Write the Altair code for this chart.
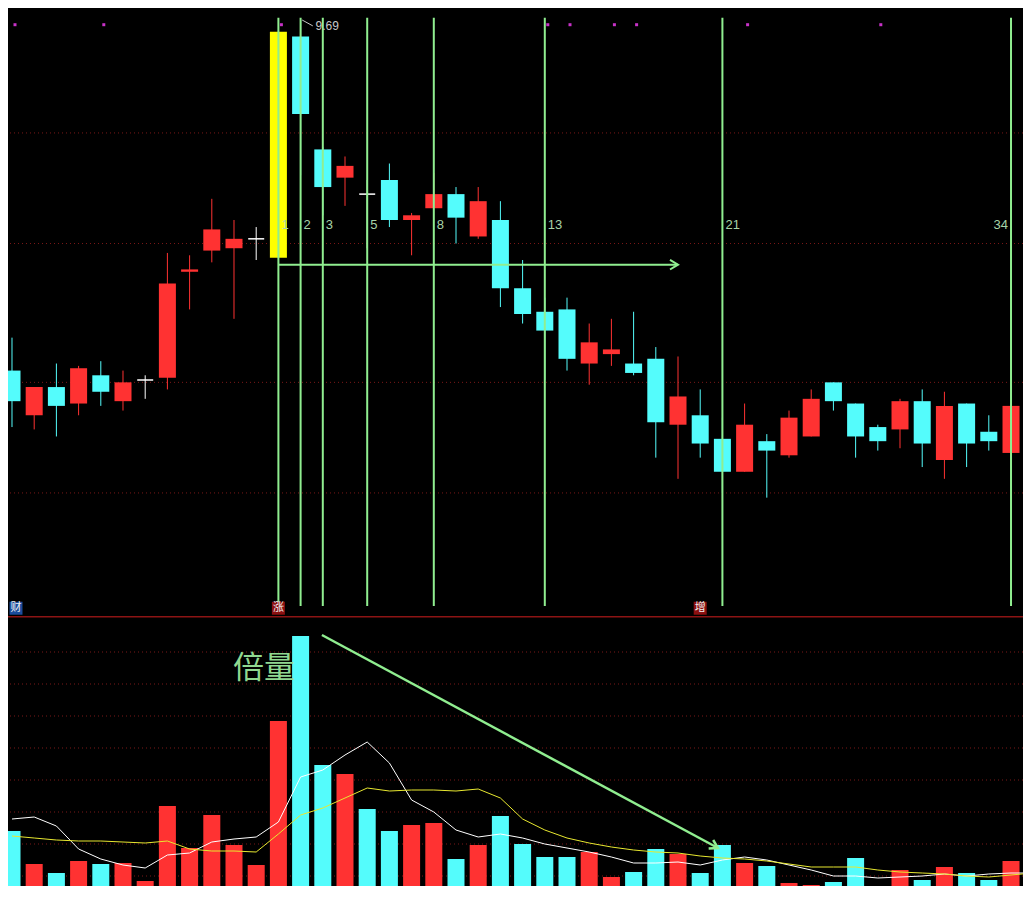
import altair as alt
import pandas as pd

# ---------------- data ----------------
opens = [8.20, 8.01, 8.13, 8.06, 8.18, 8.07, 8.16, 8.17, 8.62, 8.71,
         8.72, 8.76, 8.68, 9.62, 9.14, 9.02, 8.95, 9.01, 8.84, 8.89,
         8.95, 8.77, 8.84, 8.55, 8.45, 8.46, 8.23, 8.27, 8.23, 8.25,
         7.97, 8.01, 7.91, 7.77, 7.90, 7.84, 7.92, 8.15, 8.06, 7.96,
         7.95, 8.07, 7.82, 8.06, 7.94, 7.85, 8.01]
highs = [8.34, 8.13, 8.23, 8.22, 8.24, 8.20, 8.18, 8.70, 8.69, 8.93,
         8.84, 8.81, 9.64, 9.69, 9.15, 9.11, 9.01, 9.08, 8.87, 9.04,
         8.98, 8.98, 8.92, 8.67, 8.51, 8.51, 8.40, 8.42, 8.45, 8.30,
         8.26, 8.12, 8.00, 8.06, 7.93, 8.03, 8.12, 8.15, 8.06, 7.97,
         8.08, 8.12, 8.11, 8.06, 8.01, 8.10, 8.03]
lows = [7.96, 7.95, 7.92, 8.01, 8.05, 8.03, 8.08, 8.12, 8.46, 8.66,
        8.42, 8.67, 8.68, 9.03, 8.86, 8.90, 8.72, 8.81, 8.69, 8.89,
        8.74, 8.76, 8.47, 8.40, 8.16, 8.20, 8.14, 8.22, 8.18, 7.83,
        7.74, 7.83, 7.68, 7.77, 7.66, 7.83, 7.92, 8.03, 7.83, 7.86,
        7.87, 7.79, 7.74, 7.79, 7.86, 7.82, 7.99]
closes = [8.07, 8.13, 8.05, 8.21, 8.11, 8.15, 8.16, 8.57, 8.63, 8.80,
          8.76, 8.76, 9.64, 9.29, 8.98, 9.07, 8.95, 8.84, 8.86, 8.95,
          8.85, 8.92, 8.55, 8.44, 8.37, 8.25, 8.32, 8.29, 8.19, 7.98,
          8.09, 7.89, 7.77, 7.97, 7.86, 8.00, 8.08, 8.07, 7.92, 7.90,
          8.07, 7.89, 8.05, 7.89, 7.90, 8.05, 8.01]
volume = [69, 36, 27, 39, 36, 37, 19, 94, 52, 85,
          55, 35, 179, 264, 135, 126, 91, 69, 75, 77,
          41, 55, 84, 56, 43, 43, 48, 23, 28, 51,
          46, 27, 55, 37, 34, 17, 15, 18, 42, 12,
          30, 20, 33, 27, 20, 39, 16]
vol_ma5 = [81, 83, 74, 51, 41, 35, 32, 45, 47, 58,
           61, 63, 78, 123, 130, 145, 158, 137, 100, 88,
           70, 63, 66, 62, 56, 52, 48, 43, 37, 37,
           38, 35, 40, 43, 40, 35, 30, 24, 24, 22,
           23, 24, 26, 24, 26, 27, 27]
vol_ma10 = [64, 62, 60, 59, 59, 58, 57, 59, 51, 49,
            49, 48, 66, 85, 92, 102, 112, 109, 110, 110,
            109, 111, 102, 81, 70, 62, 57, 53, 50, 48,
            47, 44, 42, 41, 39, 36, 33, 33, 33, 30,
            28, 27, 26, 24, 23, 25, 27]

limit_up_day = 12                      # candle drawn in yellow
fib_numbers = [1, 2, 3, 5, 8, 13, 21, 34]
fib_origin = 11                        # day index of "0"
marker_days = [0, 4, 12, 24, 25, 27, 28, 33, 39]
event_days = [0, 12, 31]
event_texts = ["财", "涨", "增"]
event_fills = ["#1A4C9C", "#8C1010", "#8C1010"]
price_grid = [9.21, 8.74, 8.15, 7.68]
vol_grid = [248, 216, 184, 152, 120, 88, 56, 24]
trend_price = 8.65                     # horizontal arrow level
trend_from, trend_to = 12, 30
vol_arrow = {"x": [13.96], "x2": [31.8], "v": [265], "v2": [52]}
fib_top, fib_bottom, fib_label_price = 9.70, 7.20, 8.82
marker_price, event_price = 9.67, 7.19

RED, CYAN, YELLOW, WHITE = "#FF3232", "#54FCFC", "#FFFF00", "#FFFFFF"
GREEN = "#90EE90"

# ---------------- scales ----------------
W, H_TOP, H_BOT = 1015, 608, 270
X_MIN, X_MAX = -0.18, 45.54
xs = alt.Scale(domain=[X_MIN, X_MAX], nice=False, zero=False)
ps = alt.Scale(domain=[7.157, 9.741], nice=False, zero=False)
vs = alt.Scale(domain=[14, 284], nice=False, zero=False)

# ---------------- tables ----------------
n = len(opens)
df = pd.DataFrame({"i": list(range(n)), "open": opens, "high": highs,
                   "low": lows, "close": closes, "volume": volume,
                   "ma5": vol_ma5, "ma10": vol_ma10})
prev_close = df["close"].shift(1).fillna(df["open"])
colors, vcolors = [], []
for k, r in df.iterrows():
    if k == limit_up_day:
        c = YELLOW
    elif r.close > r.open:
        c = RED
    elif r.close < r.open:
        c = CYAN
    else:
        c = WHITE
    colors.append(c)
    if c in (RED, YELLOW):
        vc = RED
    elif c == CYAN:
        vc = CYAN
    else:
        vc = RED if r.close >= prev_close[k] else CYAN
    vcolors.append(vc)
df["color"] = colors
df["vcolor"] = vcolors
df["top"] = df[["open", "close"]].max(axis=1)
df["bot"] = df[["open", "close"]].min(axis=1)
df["x0"] = df["i"] - 0.383
df["x1"] = df["i"] + 0.383
df["d0"] = df["i"] - 0.36
df["d1"] = df["i"] + 0.36
doji = df[df["open"] == df["close"]]

fib = pd.DataFrame({"n": fib_numbers,
                    "i": [fib_origin + f for f in fib_numbers],
                    "lab": [str(f) for f in fib_numbers]})
fib["top"] = fib_top
fib["bot"] = fib_bottom
fib["ly"] = fib_label_price
# labels that would run past the right edge are put on the left of their line
fib["right_side"] = fib["i"] < X_MAX - 1.0
fib_r = fib[fib["right_side"]]
fib_l = fib[~fib["right_side"]]

markers = pd.DataFrame({"i": marker_days, "p": marker_price})
events = pd.DataFrame({"i": event_days, "t": event_texts,
                       "fill": event_fills, "p": event_price})
events["lx"] = events["i"].clip(lower=X_MIN + 0.36)
pgrid = pd.DataFrame({"p": price_grid})
vgrid = pd.DataFrame({"v": vol_grid})
trend = pd.DataFrame({"x": [trend_from], "x2": [trend_to], "p": [trend_price]})
varrow = pd.DataFrame(vol_arrow)
peak = df.loc[[df["high"].idxmax()], ["i", "high"]].copy()
peak["lab"] = peak["high"].map(lambda v: f"{v:.2f}")
peak["i2"] = peak["i"] + 0.55
peak["i1"] = peak["i"] + 0.07
peak["h2"] = peak["high"] - 0.025


def X(f):
    return alt.X(f, scale=xs, axis=None)


def P(f):
    return alt.Y(f, scale=ps, axis=None)


def V(f):
    return alt.Y(f, scale=vs, axis=None)


# ---------------- price pane ----------------
base = alt.Chart(df)
grid_p = alt.Chart(pgrid).mark_rule(color="#7A1818", strokeDash=[1, 3],
                                    strokeWidth=1, clip=True).encode(y=P("p:Q"))
wicks = base.mark_rule(strokeWidth=1, clip=True).encode(
    x=X("i:Q"), y=P("low:Q"), y2="high:Q",
    color=alt.Color("color:N", scale=None))
bodies = base.mark_rect(strokeWidth=0, clip=True).encode(
    x=X("x0:Q"), x2="x1:Q", y=P("top:Q"), y2="bot:Q",
    color=alt.Color("color:N", scale=None))
doji_l = alt.Chart(doji).mark_rule(strokeWidth=1.5, clip=True).encode(
    x=X("d0:Q"), x2="d1:Q", y=P("close:Q"),
    color=alt.Color("color:N", scale=None))
fib_lines = alt.Chart(fib).mark_rule(color=GREEN, strokeWidth=2, clip=True).encode(
    x=X("i:Q"), y=P("top:Q"), y2="bot:Q")
fib_text_r = alt.Chart(fib_r).mark_text(align="left", baseline="middle", dx=3,
                                         font="Liberation Sans", fontSize=13,
                                         color="#A8D4A8", clip=True).encode(
    x=X("i:Q"), y=P("ly:Q"), text="lab:N")
fib_text_l = alt.Chart(fib_l).mark_text(align="right", baseline="middle", dx=-3,
                                         font="Liberation Sans", fontSize=13,
                                         color="#A8D4A8", clip=True).encode(
    x=X("i:Q"), y=P("ly:Q"), text="lab:N")
trend_l = alt.Chart(trend).mark_rule(color=GREEN, strokeWidth=2, clip=True).encode(
    x=X("x:Q"), x2="x2:Q", y=P("p:Q"))
trend_h = alt.Chart(trend).mark_point(shape="M-2,-1.2L0,0L-2,1.2", filled=False,
                                      size=64, color=GREEN, strokeWidth=2,
                                      opacity=1, clip=True).encode(
    x=X("x2:Q"), y=P("p:Q"))
mk = alt.Chart(markers).mark_square(size=9, color="#C832C8", opacity=1,
                                    xOffset=3, clip=True).encode(
    x=X("i:Q"), y=P("p:Q"))
peak_r = alt.Chart(peak).mark_rule(color="#C8C8C8", strokeWidth=1, clip=True).encode(
    x=X("i1:Q"), x2="i2:Q", y=P("high:Q"), y2="h2:Q")
peak_t = alt.Chart(peak).mark_text(align="left", baseline="middle", dx=15, dy=6,
                                   font="Liberation Sans", fontSize=12,
                                   color="#C8C8C8", clip=True).encode(
    x=X("i:Q"), y=P("high:Q"), text="lab:N")
ev_box = alt.Chart(events).mark_square(size=169, opacity=1, clip=True).encode(
    x=X("lx:Q"), y=P("p:Q"), color=alt.Color("fill:N", scale=None))
ev_txt = alt.Chart(events).mark_text(font="Noto Sans CJK SC", fontSize=11,
                                     color="#F0F0F0", baseline="middle",
                                     clip=True).encode(
    x=X("lx:Q"), y=P("p:Q"), text="t:N")

top = alt.layer(grid_p, wicks, bodies, doji_l, fib_lines, trend_l, trend_h,
                fib_text_r, fib_text_l, mk, peak_r, peak_t, ev_box,
                ev_txt).properties(width=W, height=H_TOP)

# ---------------- volume pane ----------------
grid_v = alt.Chart(vgrid).mark_rule(color="#7A1818", strokeDash=[1, 3],
                                    strokeWidth=1, clip=True).encode(y=V("v:Q"))
sep = alt.Chart(pd.DataFrame({"v": [283.3]})).mark_rule(
    color="#8C1414", strokeWidth=1.5, clip=True).encode(y=V("v:Q"))
vbars = base.mark_rect(strokeWidth=0, clip=True).encode(
    x=X("x0:Q"), x2="x1:Q", y=V("volume:Q"), y2=alt.datum(0),
    color=alt.Color("vcolor:N", scale=None))
ma5 = base.mark_line(color=WHITE, strokeWidth=1, clip=True).encode(
    x=X("i:Q"), y=V("ma5:Q"))
ma10 = base.mark_line(color="#E8E830", strokeWidth=1, clip=True).encode(
    x=X("i:Q"), y=V("ma10:Q"))
va_l = alt.Chart(varrow).mark_rule(color=GREEN, strokeWidth=2.5, clip=True).encode(
    x=X("x:Q"), x2="x2:Q", y=V("v:Q"), y2="v2:Q")
va_h = alt.Chart(varrow).mark_point(shape="M-2,-1.2L0,0L-2,1.2", filled=False,
                                    size=64, angle=28, color=GREEN, strokeWidth=2.5,
                                    opacity=1, clip=True).encode(
    x=X("x2:Q"), y=V("v2:Q"))
label = alt.Chart(pd.DataFrame({"i": [9.95], "v": [231], "t": ["倍量"]})).mark_text(
    align="left", baseline="middle", font="Noto Sans CJK SC", fontSize=31,
    color="#90D890", clip=True).encode(x=X("i:Q"), y=V("v:Q"), text="t:N")

bottom = alt.layer(grid_v, sep, vbars, ma5, ma10, va_l, va_h, label).properties(
    width=W, height=H_BOT)

chart = alt.vconcat(top, bottom, spacing=0, bounds="flush").properties(
    background="black", padding=0).configure_view(stroke=None)

chart.save("out.html", embed_options={"renderer": "svg", "actions": False})
